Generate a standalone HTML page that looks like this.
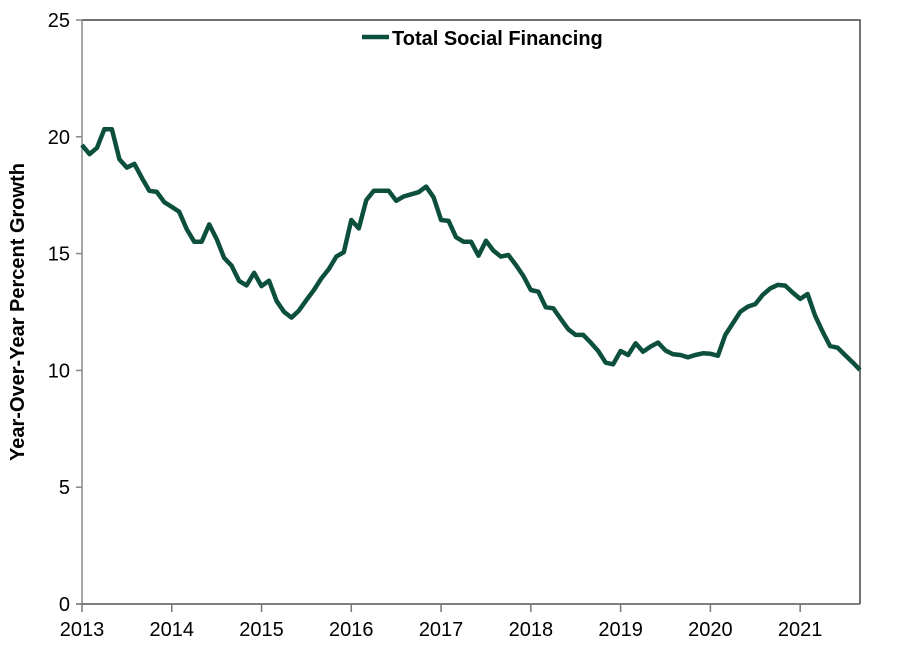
<!DOCTYPE html>
<html><head><meta charset="utf-8"><style>
body{margin:0;background:#fff;}
svg text{font-family:"Liberation Sans",Arial,sans-serif;}
</style></head><body>
<svg id="chart" width="900" height="660" xmlns="http://www.w3.org/2000/svg">
<rect width="900" height="660" fill="#fff"/>
<g id="frame"></g>
<g id="axes"></g>
<path id="series" fill="none" stroke="#0b4f3c" stroke-width="4.5" stroke-linejoin="round"/>
<g>
<line x1="362" y1="37" x2="389" y2="37" stroke="#0b4f3c" stroke-width="4.5"/>
<text x="392" y="45" font-size="20" font-weight="bold" fill="#000">Total Social Financing</text>
</g>
<text transform="translate(24,312) rotate(-90)" text-anchor="middle" font-size="20" font-weight="bold" fill="#000">Year-Over-Year Percent Growth</text>
</svg>
<script>
const startYear = 2013;
const values = [19.65,19.26,19.53,20.33,20.32,19.04,18.68,18.84,18.25,17.69,17.64,17.2,
17.0,16.79,16.05,15.51,15.51,16.25,15.62,14.82,14.48,13.83,13.64,14.18,
13.61,13.84,12.98,12.51,12.26,12.56,13.01,13.44,13.94,14.34,14.87,15.06,
16.44,16.08,17.29,17.69,17.69,17.69,17.26,17.45,17.54,17.63,17.87,17.41,
16.44,16.40,15.70,15.51,15.51,14.91,15.55,15.13,14.87,14.94,14.51,14.04,
13.44,13.37,12.70,12.66,12.2,11.76,11.52,11.52,11.19,10.83,10.33,10.26,
10.83,10.66,11.16,10.80,11.02,11.19,10.85,10.69,10.66,10.56,10.66,10.73,
10.71,10.63,11.52,12.01,12.51,12.73,12.84,13.23,13.51,13.66,13.63,13.33,
13.06,13.27,12.34,11.66,11.04,10.97,10.66,10.35,10.02];
const yTicks = [0,5,10,15,20,25];
const xTickLabels = ["2013","2014","2015","2016","2017","2018","2019","2020","2021"];
const X0=82, X1=860, Y0=604, Y1=20, PXY=(860-82)/(8+8/12);
function xs(t){return X0+(t-startYear)*PXY;}
function ys(v){return Y0-(v-0)/(25-0)*(Y0-Y1);}
const NS="http://www.w3.org/2000/svg";
const axes=document.getElementById('axes'), frame=document.getElementById('frame');
function mk(tag,attrs,parent){const e=document.createElementNS(NS,tag);for(const k in attrs)e.setAttribute(k,attrs[k]);parent.appendChild(e);return e;}
let f=mk('path',{d:`M${X0},${Y1}H${X1}V${Y0}`,fill:'none',stroke:'#444','stroke-width':1.5},frame);


let ya=mk('line',{x1:X0,y1:Y1,x2:X0,y2:Y0,stroke:'#888','stroke-width':1.5},axes);


let xa=mk('line',{x1:X0-6,y1:Y0,x2:X1,y2:Y0,stroke:'#555','stroke-width':1.5},axes);


yTicks.forEach(v=>{
  const y=ys(v);
  let t=mk('line',{x1:X0-6,y1:y,x2:X0,y2:y,stroke:'#888','stroke-width':1.5},axes);
  
  
  let l=mk('text',{x:X0-12,y:y+7,'text-anchor':'end','font-size':20,fill:'#000'},axes);
  
  
  l.textContent=v;
});
xTickLabels.forEach((lab,i)=>{
  const x=xs(startYear+i);
  let t=mk('line',{x1:x,y1:Y0,x2:x,y2:Y0+8,stroke:'#777','stroke-width':1.5},axes);
  
  
  let l=mk('text',{x:x,y:Y0+32,'text-anchor':'middle','font-size':20,fill:'#000'},axes);
  
  
  l.textContent=lab;
});
document.getElementById('series').setAttribute('d',values.map((v,i)=>(i?'L':'M')+xs(startYear+i/12).toFixed(1)+','+ys(v).toFixed(1)).join(''));
</script>
</body></html>
